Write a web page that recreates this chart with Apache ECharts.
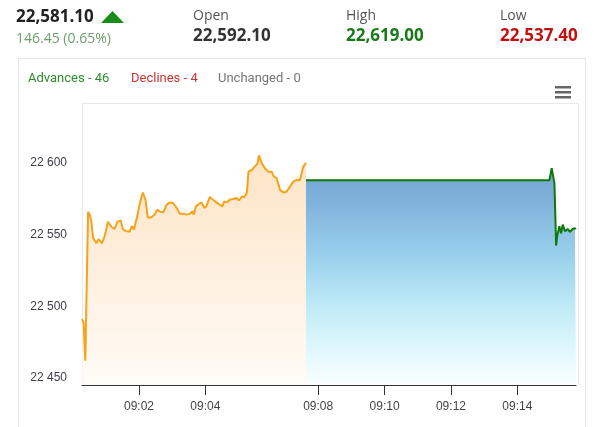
<!DOCTYPE html>
<html>
<head>
<meta charset="utf-8">
<script src="https://cdn.jsdelivr.net/npm/echarts@6/dist/echarts.min.js"></script>
<style>
  html, body { margin: 0; padding: 0; background: #fff; }
  #chart { width: 600px; height: 427px; }
</style>
</head>
<body>
<div id="chart"></div>
<script>
// ---- Data ----
const preOpenTimes = ['09:00:17','09:00:20','09:00:23','09:00:28','09:00:31','09:00:34','09:00:37','09:00:43','09:00:47','09:00:53',
  '09:00:58','09:01:04','09:01:10','09:01:16','09:01:21','09:01:27','09:01:31','09:01:37','09:01:43','09:01:47',
  '09:01:51','09:01:57','09:02:01','09:02:07','09:02:12','09:02:16','09:02:22','09:02:28','09:02:33','09:02:37',
  '09:02:44','09:02:50','09:02:56','09:03:02','09:03:08','09:03:14','09:03:20','09:03:26','09:03:32','09:03:37',
  '09:03:39','09:03:43','09:03:49','09:03:53','09:03:58','09:04:02','09:04:08','09:04:14','09:04:20','09:04:26',
  '09:04:31','09:04:34','09:04:39','09:04:44','09:04:50','09:04:57','09:05:01','09:05:06','09:05:10','09:05:15',
  '09:05:18','09:05:24','09:05:30','09:05:34','09:05:37','09:05:42','09:05:48','09:05:54','09:06:00','09:06:03',
  '09:06:09','09:06:15','09:06:21','09:06:27','09:06:33','09:06:39','09:06:45','09:06:51','09:06:54','09:06:57',
  '09:07:02'];
const preOpenValues = [22491,22488,22462,22566,22564,22559,22548,22544,22547,22544,
  22549,22559,22555.5,22554,22559,22560,22553.7,22552.5,22552,22556,
  22553.7,22563,22571,22579.5,22574,22562,22562,22564,22567.5,22566.3,
  22565.6,22571,22572.6,22572,22568.7,22564.7,22564.7,22564,22564.7,22566.3,
  22564,22569.8,22571.6,22572.6,22568.7,22569.8,22576.3,22574.4,22572.6,22571,
  22569.8,22573.2,22572.6,22574.4,22574.9,22575.6,22573.9,22576.7,22576.3,22579,
  22594,22595.2,22597.9,22599.3,22605.5,22599.8,22596.3,22594,22594,22591,
  22589.4,22581.3,22579.5,22580.2,22583.6,22587.1,22588.2,22588.2,22589.4,22597.4,
  22600.2];
const marketTimes = ['09:07:38','09:14:58','09:15:02','09:15:04','09:15:07','09:15:09','09:15:10','09:15:12','09:15:16','09:15:19',
  '09:15:22','09:15:26','09:15:31','09:15:35','09:15:40','09:15:44','09:15:46'];
const marketValues = [22588,22588,22596.5,22597.4,22586,22558.6,22542.3,22549,22556,22551,
  22557,22552.5,22554,22552,22554,22554.5,22554];
const xTicksLeft = ['09:02','09:04'];
const xTicksRight = ['09:08','09:10','09:12','09:14'];
const yTicks = [22450, 22500, 22550, 22600];
const yMin = 22445, yMax = 22642;
const header = { last: '22,581.10', change: '146.45 (0.65%)', open: '22,592.10', high: '22,619.00', low: '22,537.40' };
const breadth = { advances: 46, declines: 4, unchanged: 0 };

// ---- Build ----
// time strings -> seconds of the day
const secs = s => { const p = s.split(':').map(Number); return p[0] * 3600 + p[1] * 60 + (p[2] || 0); };
const preOpenData = preOpenTimes.map((t, i) => [secs(t), preOpenValues[i]]);
const marketData = marketTimes.map((t, i) => [secs(t), marketValues[i]]);
const pad = n => (n < 10 ? '0' : '') + n;
const fmtTime = v => pad(Math.floor(v / 3600)) + ':' + pad(Math.floor((v % 3600) / 60));
const fmtY = v => String(v).replace(/\B(?=(\d{3})+(?!\d))/g, ' ');

const AXIS_FONT = '"Liberation Sans", Arial, sans-serif';
const makeX = (gi, times, ticks) => ({
  type: 'value', gridIndex: gi,
  min: secs(times[0]), max: secs(times[times.length - 1]),
  axisLine: { lineStyle: { color: '#333', width: 1 } },
  axisTick: { length: 10, lineStyle: { color: '#333' }, customValues: ticks.map(secs) },
  axisLabel: { color: '#444', fontSize: 12, fontFamily: AXIS_FONT, margin: 16,
    customValues: ticks.map(secs), formatter: v => fmtTime(v) },
  splitLine: { show: false }
});

const chart = echarts.init(document.getElementById('chart'), null, { renderer: 'canvas' });
const hdrFont = '"Open Sans", sans-serif';

chart.setOption({
  animation: false,
  backgroundColor: '#fff',
  grid: [
    { left: 82, top: 103, width: 224, bottom: 42 },
    { left: 306, top: 103, right: 24, bottom: 42 }
  ],
  xAxis: [ makeX(0, preOpenTimes, xTicksLeft), makeX(1, marketTimes, xTicksRight) ],
  yAxis: [
    {
      type: 'value', gridIndex: 0, min: yMin, max: yMax,
      axisLine: { show: false }, axisTick: { show: false },
      splitLine: { show: false },
      axisLabel: { color: '#3d3d50', fontSize: 12, fontFamily: AXIS_FONT, margin: 15,
        customValues: yTicks, formatter: v => fmtY(v) }
    },
    {
      type: 'value', gridIndex: 1, min: yMin, max: yMax, show: false,
      splitLine: { show: false }
    }
  ],
  series: [
    {
      type: 'line', xAxisIndex: 0, yAxisIndex: 0, data: preOpenData,
      showSymbol: false, symbol: 'none',
      lineStyle: { color: '#f5a31a', width: 2 },
      areaStyle: {
        color: new echarts.graphic.LinearGradient(0, 0, 0, 1, [
          { offset: 0, color: '#fdd8ad' },
          { offset: 1, color: '#fffaf3' }
        ])
      }
    },
    {
      type: 'line', xAxisIndex: 1, yAxisIndex: 1, data: marketData,
      showSymbol: false, symbol: 'none',
      lineStyle: { color: '#0b7a0b', width: 2 },
      areaStyle: {
        color: new echarts.graphic.LinearGradient(0, 0, 0, 1, [
          { offset: 0, color: '#3a7fc1' },
          { offset: 0.12, color: '#438ac8' },
          { offset: 0.4, color: '#6bbbe2' },
          { offset: 0.65, color: '#a6e3f4' },
          { offset: 0.85, color: '#d6f5fc' },
          { offset: 1, color: '#f7feff' }
        ])
      }
    }
  ],
  graphic: [
    { type: 'rect', shape: { x: 18.5, y: 58.5, width: 567, height: 400 }, style: { fill: 'none', stroke: '#e6e6e6', lineWidth: 1 }, z: -10 },
    { type: 'polyline', shape: { points: [[82.5, 385], [82.5, 103.5], [578.5, 103.5], [578.5, 385]] }, style: { fill: 'none', stroke: '#e8e8e8', lineWidth: 1 }, z: -5 },
    { type: 'text', style: { x: 16, y: 17, text: header.last, font: 'bold 17px ' + hdrFont, fill: '#222', textVerticalAlign: 'middle' } },
    { type: 'polygon', shape: { points: [[101, 23], [112.5, 11], [124, 23]] }, style: { fill: '#1a8a1a' } },
    { type: 'text', style: { x: 16, y: 39, text: header.change, font: '14px ' + hdrFont, fill: '#6f9f6f', textVerticalAlign: 'middle' } },
    { type: 'text', style: { x: 193, y: 16, text: 'Open', font: '14px ' + hdrFont, fill: '#555', textVerticalAlign: 'middle' } },
    { type: 'text', style: { x: 193, y: 36, text: header.open, font: 'bold 17px ' + hdrFont, fill: '#333', textVerticalAlign: 'middle' } },
    { type: 'text', style: { x: 346, y: 16, text: 'High', font: '14px ' + hdrFont, fill: '#555', textVerticalAlign: 'middle' } },
    { type: 'text', style: { x: 346, y: 36, text: header.high, font: 'bold 17px ' + hdrFont, fill: '#1a7a1a', textVerticalAlign: 'middle' } },
    { type: 'text', style: { x: 500, y: 16, text: 'Low', font: '14px ' + hdrFont, fill: '#555', textVerticalAlign: 'middle' } },
    { type: 'text', style: { x: 500, y: 36, text: header.low, font: 'bold 17px ' + hdrFont, fill: '#c40f0f', textVerticalAlign: 'middle' } },
    { type: 'text', style: { x: 28, y: 79, text: 'Advances - ' + breadth.advances, font: '13px Roboto, sans-serif', fill: '#2e8b2e', textVerticalAlign: 'middle' } },
    { type: 'text', style: { x: 131, y: 79, text: 'Declines - ' + breadth.declines, font: '13px Roboto, sans-serif', fill: '#cc3333', textVerticalAlign: 'middle' } },
    { type: 'text', style: { x: 218, y: 79, text: 'Unchanged - ' + breadth.unchanged, font: '13px Roboto, sans-serif', fill: '#777', textVerticalAlign: 'middle' } },
    { type: 'rect', shape: { x: 555, y: 86, width: 16, height: 2.5 }, style: { fill: '#666' } },
    { type: 'rect', shape: { x: 555, y: 91, width: 16, height: 2.5 }, style: { fill: '#666' } },
    { type: 'rect', shape: { x: 555, y: 96, width: 16, height: 2.5 }, style: { fill: '#666' } }
  ]
});
</script>
</body>
</html>
